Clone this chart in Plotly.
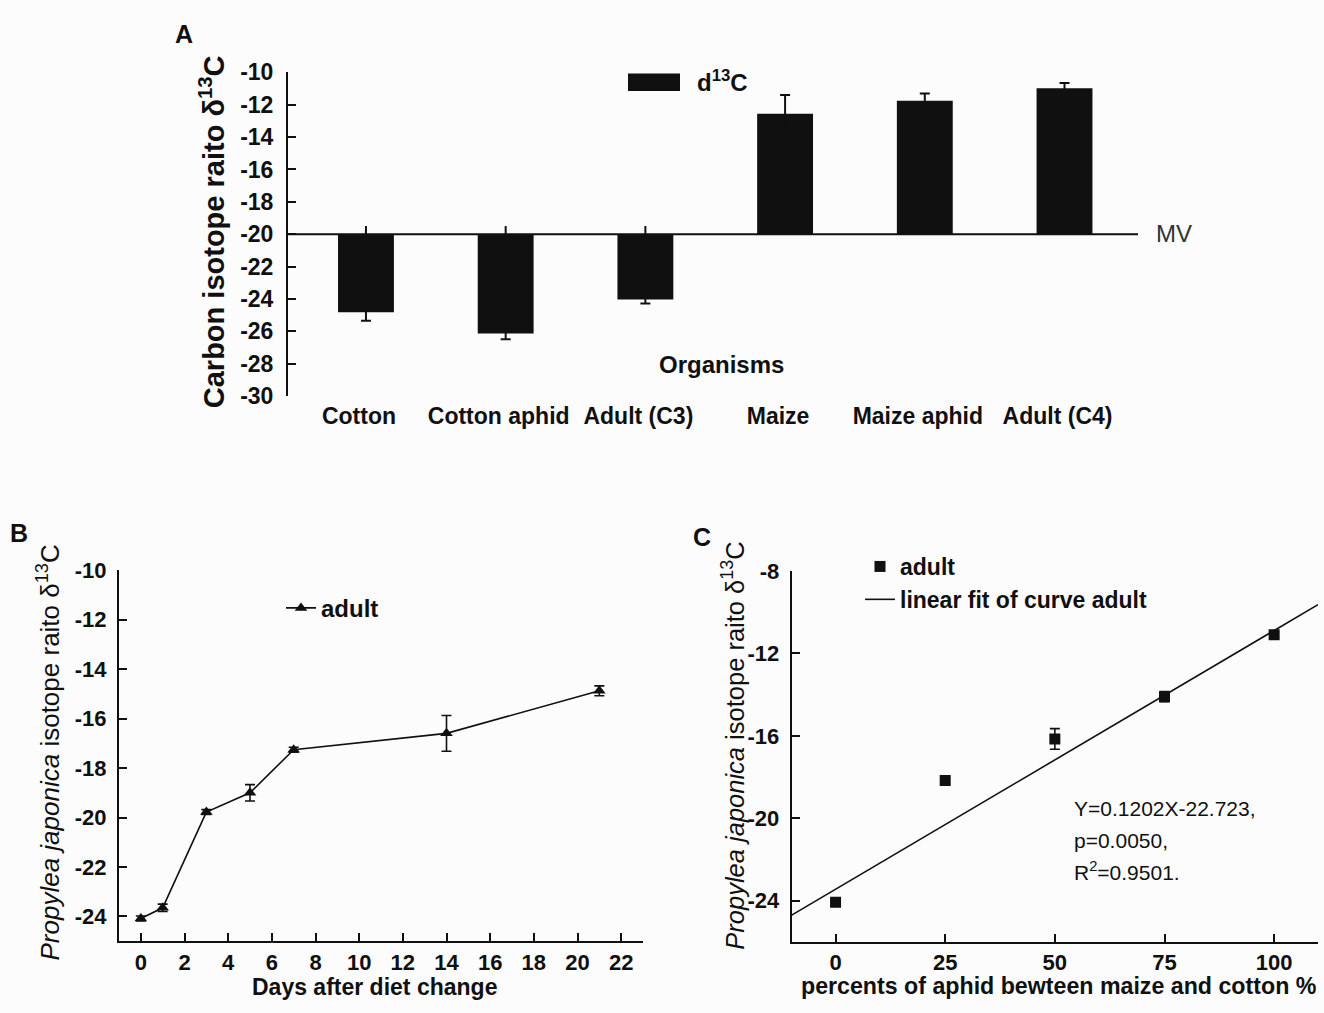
import plotly.graph_objects as go

W, H = 1324, 1013
FONT = "Arial, Liberation Sans, sans-serif"
BG = "#fcfcfd"
INK = "#101010"

# ---------------- Panel A data ----------------
organisms = ["Cotton", "Cotton aphid", "Adult (C3)", "Maize", "Maize aphid", "Adult (C4)"]
d13c_mean = [-24.82, -26.14, -24.04, -12.55, -11.75, -10.98]
d13c_err = [0.54, 0.36, 0.24, 1.16, 0.45, 0.32]
baseline_stub = [0.5, 0.5, 0.5, 0.0, 0.0, 0.0]
MV = -20
a_yticks = [-30, -28, -26, -24, -22, -20, -18, -16, -14, -12, -10]

# ---------------- Panel B data ----------------
days = [0, 1, 3, 5, 7, 14, 21]
adult_b = [-24.08, -23.65, -19.78, -19.0, -17.26, -16.6, -14.88]
adult_b_err = [0.1, 0.15, 0.1, 0.33, 0.1, 0.72, 0.2]
b_xticks = [0, 2, 4, 6, 8, 10, 12, 14, 16, 18, 20, 22]
b_yticks = [-24, -22, -20, -18, -16, -14, -12, -10]

# ---------------- Panel C data ----------------
percents = [0, 25, 50, 75, 100]
adult_c = [-24.08, -18.17, -16.15, -14.1, -11.1]
adult_c_err = [0.12, 0.15, 0.5, 0.25, 0.12]
fit_slope = 0.1256
fit_intercept = -23.45
fit_x = [-10, 110]
c_xticks = [0, 25, 50, 75, 100]
c_yticks = [-24, -20, -16, -12, -8]


def px(x):
    return x / W


def py(y):
    return 1 - y / H


fig = go.Figure()

# Panel A bars (drawn from the MV baseline)
fig.add_trace(go.Bar(
    x=organisms, y=[v - MV for v in d13c_mean], base=MV,
    marker=dict(color=INK, line=dict(width=0)),
    width=0.4,
    error_y=dict(type="data", array=d13c_err, color=INK, thickness=2, width=5),
    xaxis="x", yaxis="y", showlegend=False,
))
fig.add_trace(go.Scatter(
    x=organisms, y=[MV] * len(organisms), mode="markers",
    marker=dict(size=1, opacity=0),
    error_y=dict(type="data", symmetric=False, array=baseline_stub,
                 arrayminus=[0] * len(organisms), color=INK, thickness=2, width=0),
    xaxis="x", yaxis="y", showlegend=False, hoverinfo="skip",
))

# Panel B
fig.add_trace(go.Scatter(
    x=days, y=adult_b, mode="lines+markers", name="adult",
    line=dict(color=INK, width=1.6),
    marker=dict(symbol="triangle-up", size=11, color=INK),
    error_y=dict(type="data", array=adult_b_err, color=INK, thickness=1.6, width=5),
    xaxis="x2", yaxis="y2", legend="legend2",
))

# Panel C
fig.add_trace(go.Scatter(
    x=percents, y=adult_c, mode="markers", name="adult",
    marker=dict(symbol="square", size=11, color=INK),
    error_y=dict(type="data", array=adult_c_err, color=INK, thickness=1.6, width=5),
    xaxis="x3", yaxis="y3", legend="legend3",
))
fig.add_trace(go.Scatter(
    x=fit_x, y=[fit_slope * x + fit_intercept for x in fit_x], mode="lines",
    name="linear fit of curve adult",
    line=dict(color=INK, width=1.6),
    xaxis="x3", yaxis="y3", legend="legend3",
))


def axis(ticks_list, size=22, standoff=6, **kw):
    d = dict(
        showline=True, linecolor=INK, linewidth=2, ticks="inside",
        ticklen=8, tickwidth=2, tickcolor=INK, showgrid=False, zeroline=False,
        tickmode="array", tickvals=ticks_list, ticktext=[str(t) for t in ticks_list],
        tickfont=dict(family=FONT, size=size, color=INK, weight="bold"),
        ticklabelstandoff=standoff,
    )
    d.update(kw)
    return d


fig.update_layout(
    width=W, height=H,
    margin=dict(l=0, r=0, t=0, b=0),
    paper_bgcolor=BG, plot_bgcolor=BG,
    font=dict(family=FONT, color=INK),
    # Panel A
    xaxis=dict(domain=[px(288), px(1138)], anchor="y", range=[-0.558, 5.526],
               showline=False, ticks="", showgrid=False, zeroline=False,
               tickfont=dict(family=FONT, size=23, color=INK, weight="bold"),
               ticklabelstandoff=4, ticklabelshift=-7),
    yaxis=axis(a_yticks, size=23, standoff=8,
               domain=[py(393), py(61)], anchor="x", range=[-30, -10]),
    # Panel B
    xaxis2=axis(b_xticks, standoff=0, domain=[px(119), px(643)], anchor="y2", range=[-1, 23]),
    yaxis2=axis(b_yticks, standoff=6, domain=[py(952.7), py(571.7)], anchor="x2", range=[-25, -10]),
    # Panel C
    xaxis3=axis(c_xticks, standoff=0, domain=[px(791.7), px(1318)], anchor="y3", range=[-10, 110]),
    yaxis3=axis(c_yticks, standoff=6, domain=[py(953.3), py(572.7)], anchor="x3", range=[-26, -8]),
    legend2=dict(x=px(281), y=py(611), xanchor="left", yanchor="middle",
                 bgcolor="rgba(0,0,0,0)", borderwidth=0,
                 font=dict(family=FONT, size=24, color=INK, weight="bold")),
    legend3=dict(x=px(860), y=py(585), xanchor="left", yanchor="middle",
                 bgcolor="rgba(0,0,0,0)", borderwidth=0, tracegroupgap=0,
                 font=dict(family=FONT, size=23, color=INK, weight="bold")),
)

# MV reference line
fig.add_shape(type="line", xref="x domain", x0=0, x1=1, yref="y", y0=MV, y1=MV,
              line=dict(color=INK, width=2))
# Panel A legend swatch
fig.add_shape(type="rect", xref="paper", yref="paper",
              x0=px(628), x1=px(680), y0=py(80), y1=py(62),
              fillcolor=INK, line=dict(width=0))

ann = []


def add_text(text, x, y, size, bold=False, xanchor="center", yanchor="middle", angle=0,
             color=INK):
    ann.append(dict(text=text, x=px(x), y=py(y), xref="paper", yref="paper",
                    xanchor=xanchor, yanchor=yanchor, showarrow=False, textangle=angle,
                    font=dict(family=FONT, size=size, color=color,
                              weight="bold" if bold else "normal")))


add_text("A", 184, 22, 25, bold=True)
add_text("B", 19, 534, 25, bold=True)
add_text("C", 702, 538, 25, bold=True)
add_text("d<sup>13</sup>C", 695, 70, 24, bold=True, xanchor="left")
add_text("MV", 1154, 226, 24, xanchor="left", color="#333333")
add_text("Organisms", 722, 361, 24, bold=True)
add_text("Carbon isotope raito δ<sup>13</sup>C", 212, 225, 29, bold=True, angle=-90)
add_text("<i>Propylea japonica</i> isotope raito δ<sup>13</sup>C", 49, 759, 26, angle=-90)
add_text("<i>Propylea japonica</i> isotope raito δ<sup>13</sup>C", 733, 752, 25.5, angle=-90)
add_text("Days after diet change", 374, 1000, 23, bold=True)
add_text("percents of aphid bewteen maize and cotton %", 1058, 999, 23.2, bold=True)
add_text("Y=0.1202X-22.723,", 1072, 816, 21, xanchor="left")
add_text("p=0.0050,", 1072, 849, 21, xanchor="left")
add_text("R<sup>2</sup>=0.9501.", 1072, 881, 21, xanchor="left")

fig.update_layout(annotations=ann)

fig.write_html("out.html", config={"displayModeBar": False},
               post_script="document.body.style.margin='0';")
